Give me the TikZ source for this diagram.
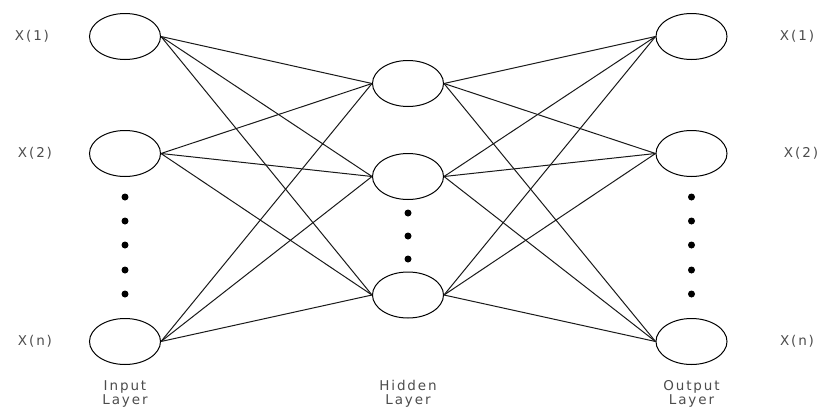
\documentclass[tikz,border=0pt]{standalone}
\usepackage{fontspec}
\setmainfont{DejaVu Sans}[LetterSpace=14]
\usetikzlibrary{shapes.geometric}
\begin{document}
\begin{tikzpicture}[x=1pt,y=-1pt,
  neuron/.style={draw=black,line width=1pt,ellipse,minimum width=71pt,minimum height=46pt,inner sep=0pt},
  link/.style={draw=black!90,line width=1pt},
  dotmark/.style={fill=black,circle,inner sep=0pt,minimum size=7pt},
  lbl/.style={font=\fontsize{13.5}{15}\selectfont,text=black!70},
  layer/.style={font=\fontsize{13.5}{14}\selectfont,text=black!70,align=center}]
\useasboundingbox (0,0) rectangle (823,407);
% input layer
\node[neuron] (i1) at (125,36.5) {};
\node[neuron] (i2) at (125,153.5) {};
\node[neuron] (in) at (125,341.5) {};
% hidden layer
\node[neuron] (h1) at (408,83.5) {};
\node[neuron] (h2) at (408,176.5) {};
\node[neuron] (h3) at (408,295) {};
% output layer
\node[neuron] (o1) at (691.5,36.5) {};
\node[neuron] (o2) at (691.5,153.5) {};
\node[neuron] (on) at (691.5,341.5) {};
% dots
\foreach \y [count=\k] in {197,221,245,270,294}{
  \node[dotmark] (di\k) at (125,\y) {};
  \node[dotmark] (do\k) at (691.5,\y) {};
}
\foreach \y [count=\k] in {213,236,259}{
  \node[dotmark] (dh\k) at (408,\y) {};
}
% connections
\foreach \a in {i1,i2,in}{
  \foreach \b in {h1,h2,h3}{
    \draw[link] (\a.east) -- (\b.west);
  }
}
\foreach \a in {h1,h2,h3}{
  \foreach \b in {o1,o2,on}{
    \draw[link] (\a.east) -- (\b.west);
  }
}
% labels
\node[lbl] (li1) at (32,36.5) {X(1)};
\node[lbl] (li2) at (35,153.5) {X(2)};
\node[lbl] (lin) at (35,341.5) {X(n)};
\node[lbl] (lo1) at (797,36.5) {X(1)};
\node[lbl] (lo2) at (801,153.5) {X(2)};
\node[lbl] (lon) at (797,341.5) {X(n)};
\node[layer] (ti) at (125,394) {Input\\Layer};
\node[layer] (th) at (408,394) {Hidden\\Layer};
\node[layer] (to) at (691.5,394) {Output\\Layer};
\end{tikzpicture}
\end{document}
